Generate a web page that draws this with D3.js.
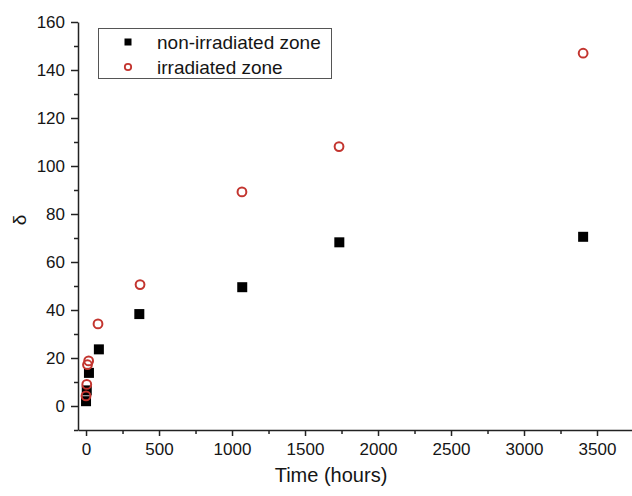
<!DOCTYPE html>
<html>
<head>
<meta charset="utf-8">
<script src="https://cdn.jsdelivr.net/npm/d3@7"></script>
<style>
  body { margin: 0; background: #fff; }
  svg text { font-family: "Liberation Sans", Arial, sans-serif; fill: #151515; }
</style>
</head>
<body>
<svg id="chart" width="632" height="496"></svg>
<script>
// series
var nonIrrTime  = [0, 5, 20, 88, 365, 1070, 1735, 3405]
var nonIrrDelta = [2, 6.5, 13.8, 23.6, 38.3, 49.5, 68.2, 70.5]
var irrTime     = [0, 5, 10, 18, 82, 370, 1068, 1733, 3405]
var irrDelta    = [4.2, 9, 17.2, 18.8, 34.2, 50.6, 89.2, 108.1, 147]

var xTicks = [0, 500, 1000, 1500, 2000, 2500, 3000, 3500]
var yTicks = [0, 20, 40, 60, 80, 100, 120, 140, 160]
var seriesNames = ["non-irradiated zone", "irradiated zone"]

var svg = d3.select("#chart")
var red = "#c3352f"

var x = d3.scaleLinear().domain([-55, 3750]).range([78, 633.5])
var y = d3.scaleLinear().domain([-10, 160]).range([430, 22])

// minor ticks first, then major ones on top
var xMinor = d3.range(250, 3751, 500)
var yMinor = d3.range(-10, 160, 20)

svg.append("g")
    .attr("transform", "translate(0,430)")
    .call(d3.axisBottom(x).tickValues(xMinor).tickSize(4).tickFormat(""))
    .call(function(g){ g.select(".domain").remove() })

svg.append("g")
    .attr("transform", "translate(78,0)")
    .call(d3.axisLeft(y).tickValues(yMinor).tickSize(4).tickFormat(""))
    .call(function(g){ g.select(".domain").remove() })

var xAxis = svg.append("g")
    .attr("transform", "translate(0,430)")
    .call(d3.axisBottom(x).tickValues(xTicks).tickFormat(d3.format("d"))
        .tickSize(6).tickSizeOuter(0).tickPadding(7))
xAxis.selectAll("text").style("font-size", "17px")

var yAxis = svg.append("g")
    .attr("transform", "translate(78,0)")
    .call(d3.axisLeft(y).tickValues(yTicks).tickFormat(d3.format("d"))
        .tickSize(7).tickSizeOuter(0).tickPadding(6))
yAxis.selectAll("text").style("font-size", "17px")

svg.selectAll(".domain, .tick line")
    .attr("stroke", "#222")
    .attr("stroke-width", 1.5)

// axis titles
svg.append("text")
    .attr("x", 331).attr("y", 482)
    .attr("text-anchor", "middle")
    .style("font-size", "20px")
    .text("Time (hours)")

svg.append("text")
    .attr("transform", "translate(26,220) rotate(-90)")
    .attr("text-anchor", "middle")
    .style("font-size", "19px")
    .text("δ")

// data
var sq = 10
svg.append("g").selectAll("rect")
    .data(nonIrrTime)
    .join("rect")
    .attr("x", function(d){ return x(d) - sq/2 })
    .attr("y", function(d, i){ return y(nonIrrDelta[i]) - sq/2 })
    .attr("width", sq).attr("height", sq)
    .attr("fill", "#000")

svg.append("g").selectAll("circle")
    .data(irrTime)
    .join("circle")
    .attr("cx", function(d){ return x(d) })
    .attr("cy", function(d, i){ return y(irrDelta[i]) })
    .attr("r", 4.4)
    .attr("fill", "none")
    .attr("stroke", red)
    .attr("stroke-width", 2)

// legend
var lg = svg.append("g")
lg.append("rect")
    .attr("x", 98.5).attr("y", 28.5)
    .attr("width", 233).attr("height", 50)
    .attr("fill", "#fff")
    .attr("stroke", "#555")
    .attr("stroke-width", 1)

lg.append("rect")
    .attr("x", 124.5).attr("y", 38.5)
    .attr("width", 7).attr("height", 7)
    .attr("fill", "#000")
lg.append("circle")
    .attr("cx", 128).attr("cy", 67)
    .attr("r", 3.2)
    .attr("fill", "none")
    .attr("stroke", red)
    .attr("stroke-width", 1.8)

lg.selectAll("text.lab")
    .data(seriesNames)
    .join("text")
    .attr("class", "lab")
    .attr("x", 157)
    .attr("y", function(d, i){ return 49 + i * 25 })
    .style("font-size", "19px")
    .text(function(d){ return d })
</script>
</body>
</html>
